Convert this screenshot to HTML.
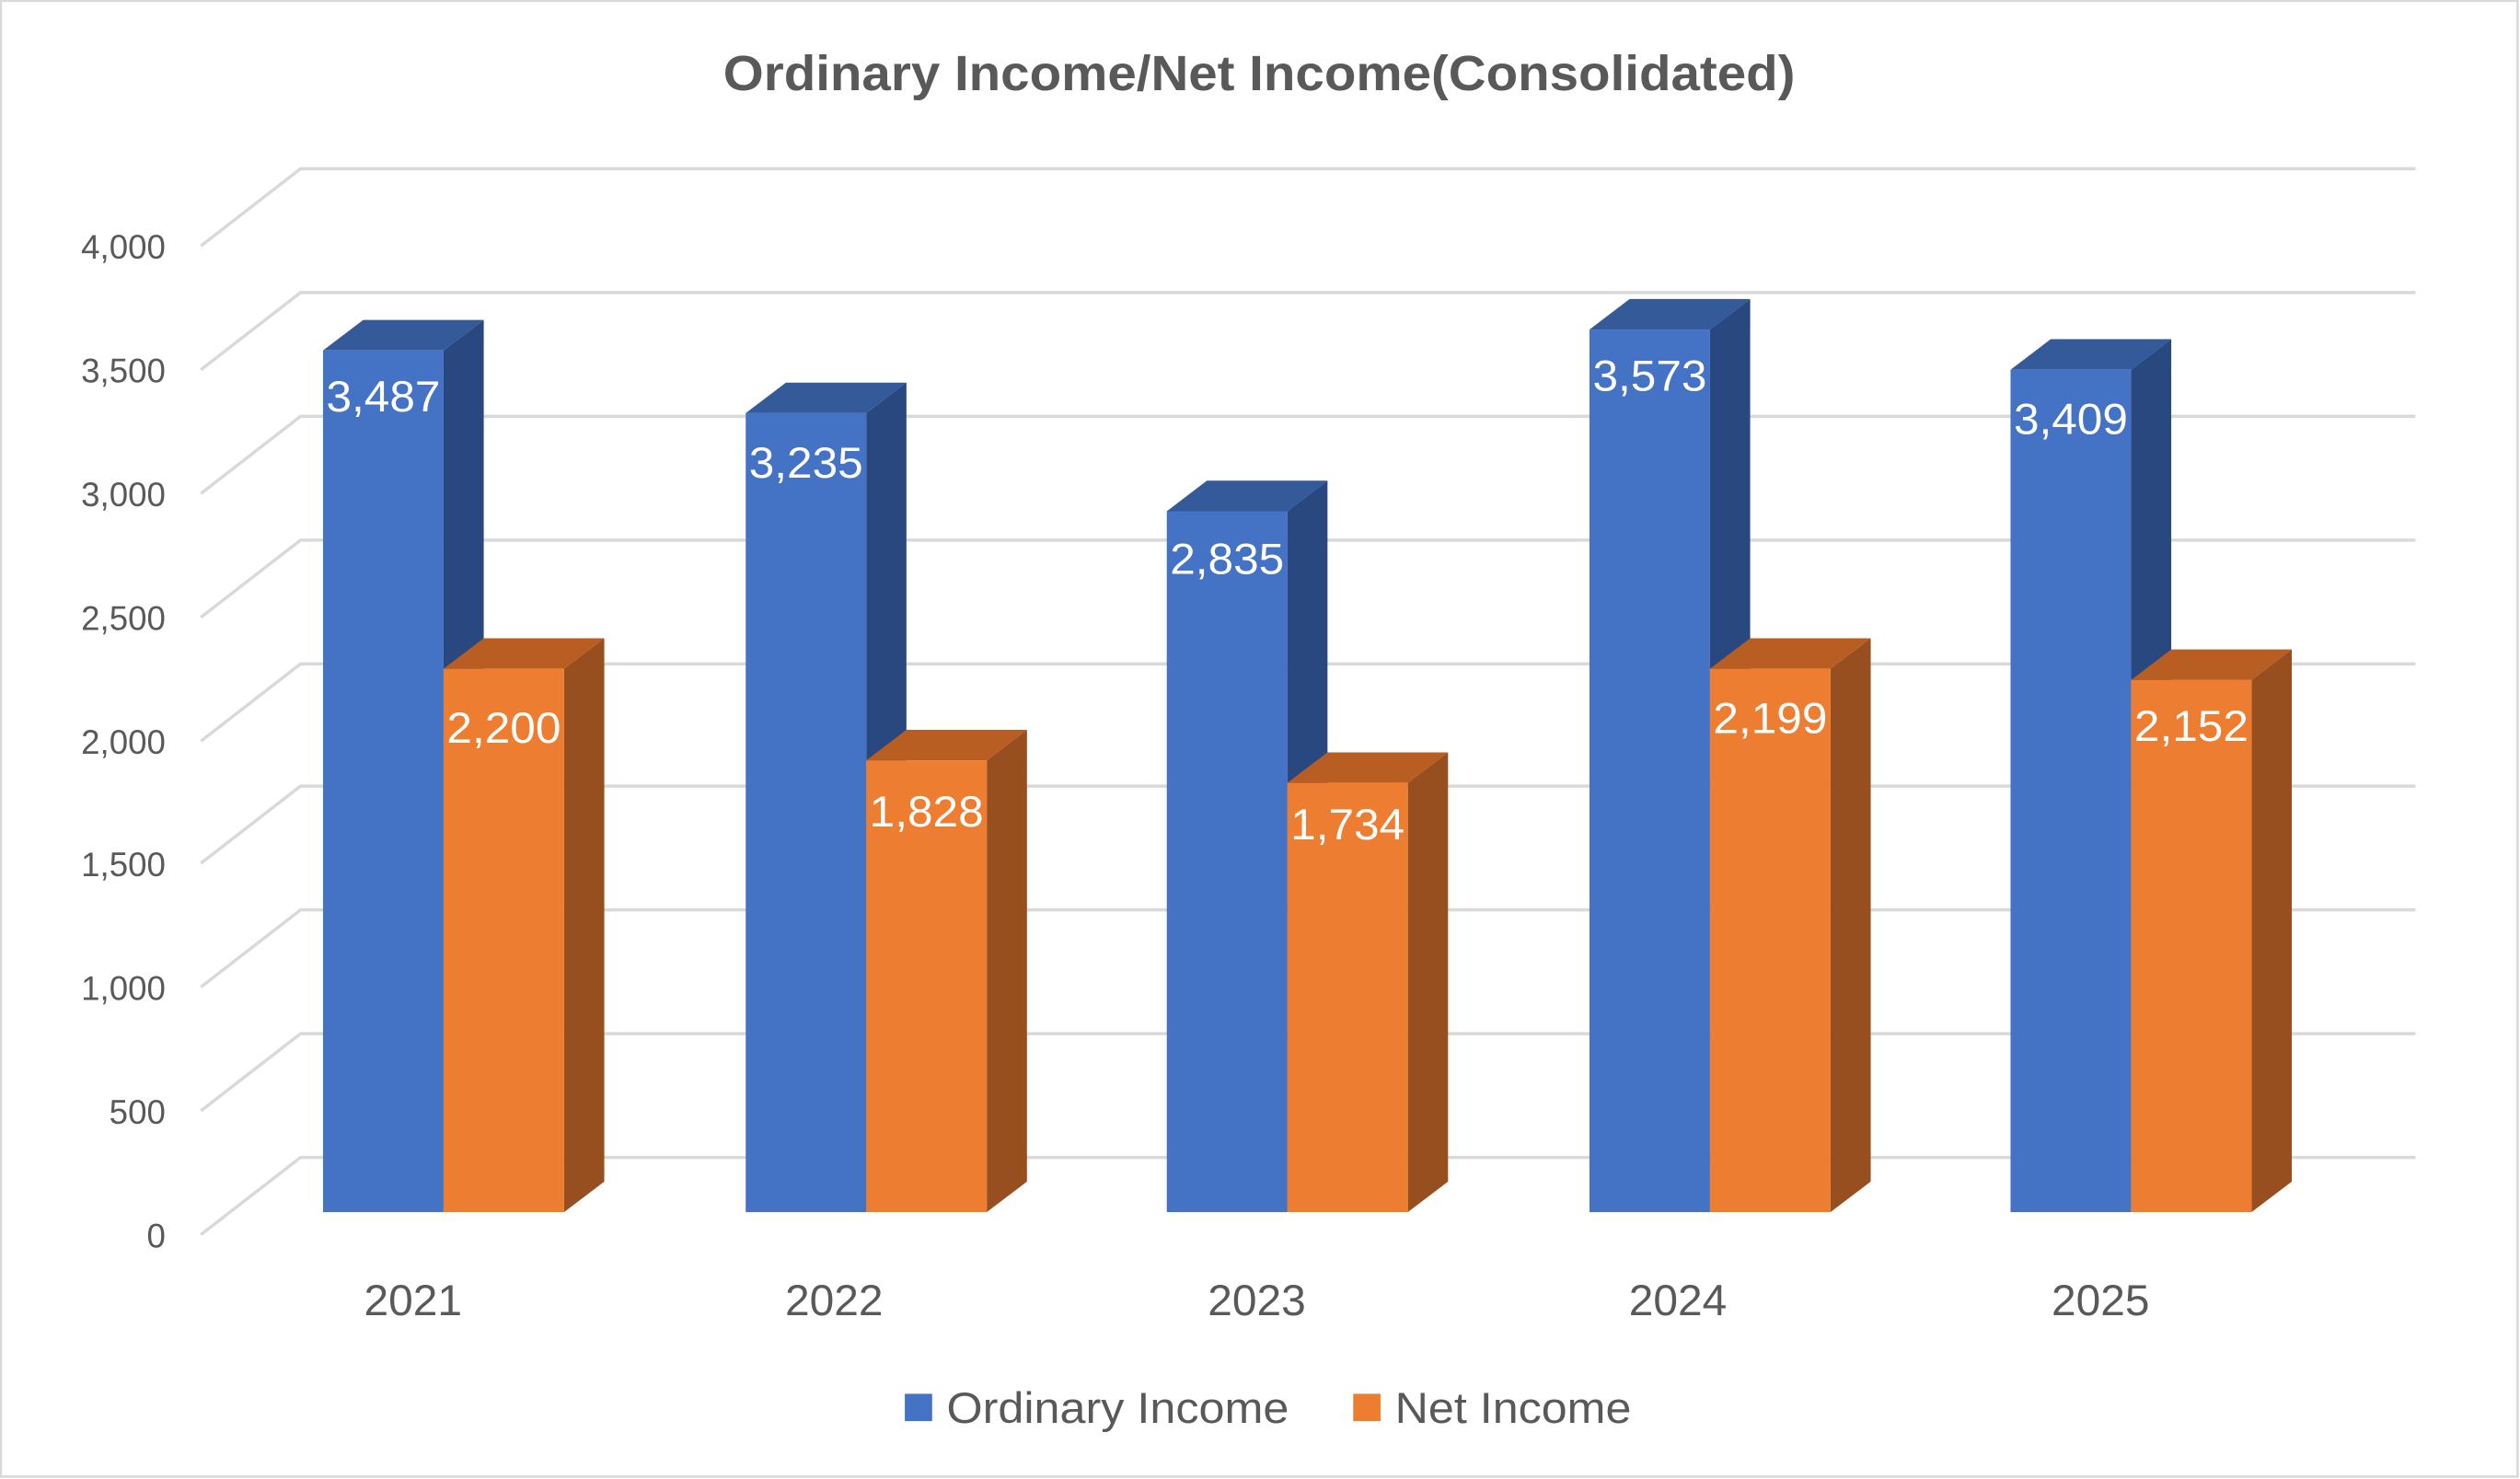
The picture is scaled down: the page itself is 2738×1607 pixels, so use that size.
<!DOCTYPE html>
<html><head><meta charset="utf-8"><style>
html,body{margin:0;padding:0;background:#fff;}
svg{display:block;}
text{font-family:"Liberation Sans","DejaVu Sans",sans-serif;}
</style></head><body>
<svg width="2738" height="1607" viewBox="0 0 1568 920" preserveAspectRatio="none">
<rect x="0.5" y="0.5" width="1566" height="918" fill="#fff" stroke="#d9d9d9" stroke-width="1.5"/>
<text x="450" y="56" textLength="667" lengthAdjust="spacingAndGlyphs" font-size="31" font-weight="bold" fill="#595959">Ordinary Income/Net Income(Consolidated)</text>
<g stroke="#d9d9d9" stroke-width="2" fill="none">
<polyline points="125,768 187,720 1503,720"/>
<polyline points="125,691 187,643 1503,643"/>
<polyline points="125,614 187,566 1503,566"/>
<polyline points="125,537 187,489 1503,489"/>
<polyline points="125,461 187,413 1503,413"/>
<polyline points="125,384 187,336 1503,336"/>
<polyline points="125,307 187,259 1503,259"/>
<polyline points="125,230 187,182 1503,182"/>
<polyline points="125,153 187,105 1503,105"/>
</g>
<g font-size="21" fill="#595959" text-anchor="end">
<text x="103" y="776">0</text>
<text x="103" y="699">500</text>
<text x="103" y="622">1,000</text>
<text x="103" y="545">1,500</text>
<text x="103" y="469">2,000</text>
<text x="103" y="392">2,500</text>
<text x="103" y="315">3,000</text>
<text x="103" y="238">3,500</text>
<text x="103" y="161">4,000</text>
</g>
<g>
<polygon points="201,218 226,199 301,199 276,218" fill="#345a9a"/>
<polygon points="276,218 301,199 301,735 276,754" fill="#2a4880"/>
<rect x="201" y="218" width="75" height="536" fill="#4472c4"/>
<polygon points="276,416 301,397 376,397 351,416" fill="#b95e22"/>
<polygon points="351,416 376,397 376,735 351,754" fill="#984f1f"/>
<rect x="276" y="416" width="75" height="338" fill="#ed7d31"/>
<polygon points="464,257 489,238 564,238 539,257" fill="#345a9a"/>
<polygon points="539,257 564,238 564,735 539,754" fill="#2a4880"/>
<rect x="464" y="257" width="75" height="497" fill="#4472c4"/>
<polygon points="539,473 564,454 639,454 614,473" fill="#b95e22"/>
<polygon points="614,473 639,454 639,735 614,754" fill="#984f1f"/>
<rect x="539" y="473" width="75" height="281" fill="#ed7d31"/>
<polygon points="726,318 751,299 826,299 801,318" fill="#345a9a"/>
<polygon points="801,318 826,299 826,735 801,754" fill="#2a4880"/>
<rect x="726" y="318" width="75" height="436" fill="#4472c4"/>
<polygon points="801,487 826,468 901,468 876,487" fill="#b95e22"/>
<polygon points="876,487 901,468 901,735 876,754" fill="#984f1f"/>
<rect x="801" y="487" width="75" height="267" fill="#ed7d31"/>
<polygon points="989,205 1014,186 1089,186 1064,205" fill="#345a9a"/>
<polygon points="1064,205 1089,186 1089,735 1064,754" fill="#2a4880"/>
<rect x="989" y="205" width="75" height="549" fill="#4472c4"/>
<polygon points="1064,416 1089,397 1164,397 1139,416" fill="#b95e22"/>
<polygon points="1139,416 1164,397 1164,735 1139,754" fill="#984f1f"/>
<rect x="1064" y="416" width="75" height="338" fill="#ed7d31"/>
<polygon points="1251,230 1276,211 1351,211 1326,230" fill="#345a9a"/>
<polygon points="1326,230 1351,211 1351,735 1326,754" fill="#2a4880"/>
<rect x="1251" y="230" width="75" height="524" fill="#4472c4"/>
<polygon points="1326,423 1351,404 1426,404 1401,423" fill="#b95e22"/>
<polygon points="1401,423 1426,404 1426,735 1401,754" fill="#984f1f"/>
<rect x="1326" y="423" width="75" height="331" fill="#ed7d31"/>
</g>
<g font-size="27" fill="#fff" text-anchor="middle">
<text x="238.5" y="256" textLength="71" lengthAdjust="spacingAndGlyphs">3,487</text>
<text x="313.5" y="462" textLength="71" lengthAdjust="spacingAndGlyphs">2,200</text>
<text x="501.5" y="297" textLength="71" lengthAdjust="spacingAndGlyphs">3,235</text>
<text x="576.5" y="514" textLength="71" lengthAdjust="spacingAndGlyphs">1,828</text>
<text x="763.5" y="357" textLength="71" lengthAdjust="spacingAndGlyphs">2,835</text>
<text x="838.5" y="522" textLength="71" lengthAdjust="spacingAndGlyphs">1,734</text>
<text x="1026.5" y="243" textLength="71" lengthAdjust="spacingAndGlyphs">3,573</text>
<text x="1101.5" y="456" textLength="71" lengthAdjust="spacingAndGlyphs">2,199</text>
<text x="1288.5" y="270" textLength="71" lengthAdjust="spacingAndGlyphs">3,409</text>
<text x="1363.5" y="461" textLength="71" lengthAdjust="spacingAndGlyphs">2,152</text>
</g>
<g font-size="27" fill="#595959" text-anchor="middle">
<text x="257" y="818" textLength="61" lengthAdjust="spacingAndGlyphs">2021</text>
<text x="519" y="818" textLength="61" lengthAdjust="spacingAndGlyphs">2022</text>
<text x="782" y="818" textLength="61" lengthAdjust="spacingAndGlyphs">2023</text>
<text x="1044" y="818" textLength="61" lengthAdjust="spacingAndGlyphs">2024</text>
<text x="1307" y="818" textLength="61" lengthAdjust="spacingAndGlyphs">2025</text>
</g>
<rect x="563" y="867" width="17" height="17" fill="#4472c4"/>
<text x="589" y="885" font-size="27" fill="#595959" textLength="213" lengthAdjust="spacingAndGlyphs">Ordinary Income</text>
<rect x="842" y="867" width="17" height="17" fill="#ed7d31"/>
<text x="868" y="885" font-size="27" fill="#595959" textLength="147" lengthAdjust="spacingAndGlyphs">Net Income</text>
</svg>
</body></html>
